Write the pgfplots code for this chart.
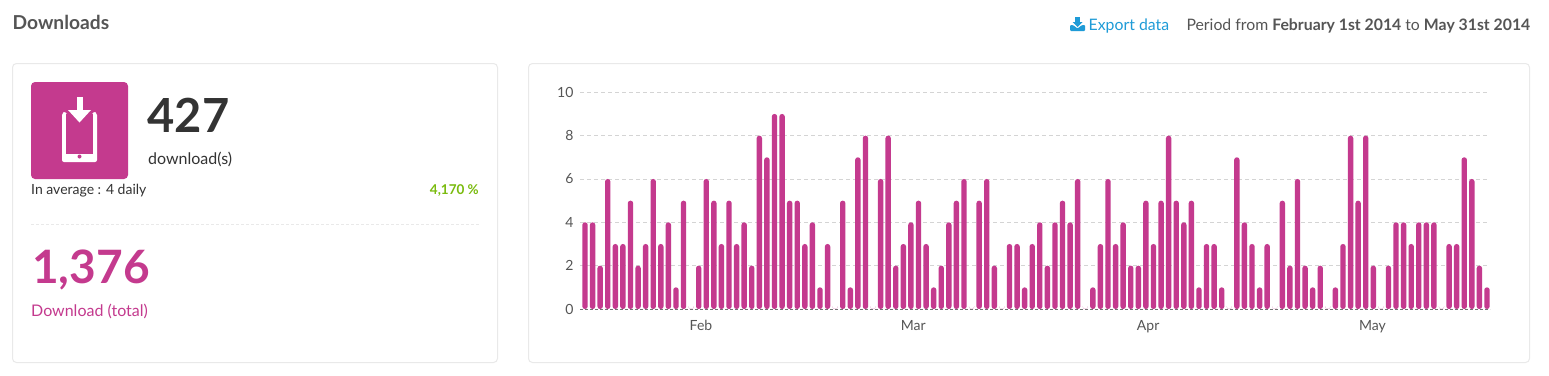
\documentclass[border=0pt]{standalone}
\usepackage{pgfplots}
\pgfplotsset{compat=1.18}
\usepackage{pgfplotstable}
\usepackage{fontspec}
\setmainfont{Lato}
\definecolor{mag}{HTML}{C43A8E}
\definecolor{txt}{HTML}{555555}
\definecolor{dark}{HTML}{333333}
\definecolor{grn}{HTML}{7ABB0E}
\definecolor{blu}{HTML}{1E9BD7}
\definecolor{cardb}{HTML}{E9E9E9}
\newcommand{\fs}[1]{\fontsize{#1bp}{#1bp}\selectfont}
\pgfplotstableread{
d v
0 4
1 4
2 2
3 6
4 3
5 3
6 5
7 2
8 3
9 6
10 3
11 4
12 1
13 5
14 0
15 2
16 6
17 5
18 3
19 5
20 3
21 4
22 2
23 8
24 7
25 9
26 9
27 5
28 5
29 3
30 4
31 1
32 3
33 0
34 5
35 1
36 7
37 8
38 0
39 6
40 8
41 2
42 3
43 4
44 5
45 3
46 1
47 2
48 4
49 5
50 6
51 0
52 5
53 6
54 2
55 0
56 3
57 3
58 1
59 3
60 4
61 2
62 4
63 5
64 4
65 6
66 0
67 1
68 3
69 6
70 3
71 4
72 2
73 2
74 5
75 3
76 5
77 8
78 5
79 4
80 5
81 1
82 3
83 3
84 1
85 0
86 7
87 4
88 3
89 1
90 3
91 0
92 5
93 2
94 6
95 2
96 1
97 2
98 0
99 1
100 3
101 8
102 5
103 8
104 2
105 0
106 2
107 4
108 4
109 3
110 4
111 4
112 4
113 0
114 3
115 3
116 7
117 6
118 2
119 1
}\downloads
\begin{document}
\begin{tikzpicture}[x=1bp,y=-1bp]
\path[use as bounding box,fill=white] (0,0) rectangle (1549,375);
\coordinate (chartorigin) at (580,309);
% cards
\draw[cardb,line width=1bp,rounded corners=4bp] (12.5,63.5) rectangle (497.5,362.5);
\draw[cardb,line width=1bp,rounded corners=4bp] (528.5,63.5) rectangle (1529.5,362.5);
% header
\node[anchor=base west,inner sep=0,text=txt,font=\fs{19.2}\bfseries] at (12.5,29) {Downloads};
\node[anchor=base west,inner sep=0,text=blu,font=\fs{15.8}] at (1088.5,30) {Export data};
\node[anchor=base east,inner sep=0,text=txt,font=\fs{15.8}] at (1530.5,30) {Period from \textbf{February 1st 2014} to \textbf{May 31st 2014}};
% export icon
\fill[blu] (1075,17) rectangle (1080,22);
\fill[blu] (1072.5,22) -- (1082.5,22) -- (1077.5,27) -- cycle;
\fill[blu,rounded corners=1bp] (1070,25) -- (1073,25) -- (1077.5,28.5) -- (1082,25) -- (1085,25) -- (1085,31) -- (1070,31) -- cycle;
% tile
\fill[mag,rounded corners=4bp] (31,82) rectangle (128,179);
\fill[white,rounded corners=2bp] (62,113) -- (66,110) -- (93,110) -- (97,113) -- (97,162) -- (62,162) -- cycle;
\fill[mag] (66,114) -- (93,114) -- (93,154) -- (66,154) -- cycle;
\fill[mag] (60,105) -- (99,105) -- (99,112) -- (94,112) -- (79.5,125) -- (65,112) -- (60,112) -- cycle;
\fill[white] (76.5,97) rectangle (82.5,112);
\fill[white] (68,110) -- (91,110) -- (79.5,122.5) -- cycle;
\fill[mag] (79.5,156.5) circle (2bp);
% KPI texts
\node[anchor=base west,inner sep=0,text=dark,font=\fs{47}\bfseries] at (147.5,132) {427};
\node[anchor=base west,inner sep=0,text=dark,font=\fs{16}] at (148,164) {download(s)};
\node[anchor=base west,inner sep=0,text=dark,font=\fs{14}] at (31,194) {In average : 4 daily};
\node[anchor=base east,inner sep=0,text=grn,font=\fs{13.5}\bfseries] at (479,194) {4,170 \%};
\draw[cardb,line width=1bp,dash pattern=on 3bp off 2bp] (31,224.5) -- (479,224.5);
\node[anchor=base west,inner sep=0,text=mag,font=\fs{46}\bfseries] at (32,283) {1,376};
\node[anchor=base west,inner sep=0,text=mag,font=\fs{16}] at (31,316) {Download (total)};
% chart
\begin{axis}[
  at={(chartorigin)},anchor=south west,
  scale only axis,width=910bp,height=216.7bp,
  xmin=-0.66,xmax=119.4,ymin=0,ymax=10,
  ybar,bar width=5.4bp,
  axis line style={draw=none},
  major tick length=0pt,
  ytick={2,4,6,8,10},
  extra y ticks={0},
  extra y tick style={grid style={draw=black!55,line width=0.8bp,dash pattern=on 3bp off 2bp}},
  ymajorgrids,
  grid style={draw=black!17,line width=0.8bp,dash pattern=on 4bp off 3bp},
  xtick={15.3,43.3,74.3,103.9},
  xticklabels={Feb,Mar,Apr,May},
  tick label style={font=\fs{14},text=txt},
  /pgf/number format/assume math mode=true,
  yticklabel style={xshift=-3bp},
  xticklabel style={yshift=-8bp},
]
\addplot[fill=mag,draw=none,rounded corners=2.6bp] table[x=d,y=v] {\downloads};
\end{axis}
\end{tikzpicture}
\end{document}
